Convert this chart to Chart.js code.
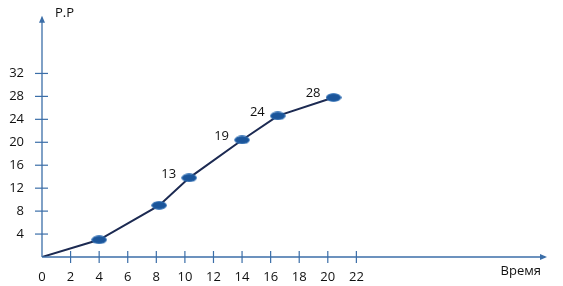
<!DOCTYPE html>
<html>
<head>
<meta charset="utf-8">
<script src="https://cdn.jsdelivr.net/npm/chart.js@4.4.1/dist/chart.umd.min.js"></script>
<style>
  html, body { margin: 0; padding: 0; background: #fff; }
  #wrap { width: 563px; height: 286px; }
</style>
</head>
<body>
<div id="wrap"><canvas id="growthChart" width="563" height="286"></canvas></div>
<script>
// data
const timeValues = [0, 4, 8.2, 10.3, 14, 16.5, 20.4];
const ppValues = [0, 3, 9, 13.8, 20.4, 24.6, 27.8];
const pointLabels = ["", "", "", "13", "19", "24", "28"];
const xTicks = [0, 2, 4, 6, 8, 10, 12, 14, 16, 18, 20, 22];
const yTicks = [4, 8, 12, 16, 20, 24, 28, 32];
const xTitle = "Время";
const yTitle = "P.P";

const axisColor = "#3b6ea8";
const lineColor = "#1c2a52";
const markerColor = "#1b559a";
const textFont = "13px 'Open Sans', sans-serif";

// ellipse marker
function makeMarker() {
  const c = document.createElement("canvas");
  c.width = 16; c.height = 9;
  const g = c.getContext("2d");
  g.beginPath();
  g.ellipse(8, 4.5, 7.3, 3.8, 0, 0, Math.PI * 2);
  g.fillStyle = markerColor;
  g.fill();
  g.strokeStyle = "#2f6fb5";
  g.lineWidth = 1;
  g.stroke();
  return c;
}
const marker = makeMarker();

// axes with arrows, crossing tick marks, titles and point labels
const axesPlugin = {
  id: "axesPlugin",
  afterDraw(chart) {
    const ctx = chart.ctx;
    const xs = chart.scales.x, ys = chart.scales.y;
    const x0 = xs.getPixelForValue(0);
    const y0 = ys.getPixelForValue(0);
    const area = chart.chartArea;
    ctx.save();
    ctx.strokeStyle = axisColor;
    ctx.fillStyle = axisColor;
    ctx.lineWidth = 1.3;
    // x axis
    ctx.beginPath();
    ctx.moveTo(x0, y0);
    ctx.lineTo(area.right, y0);
    ctx.stroke();
    ctx.beginPath();
    ctx.moveTo(area.right + 2, y0);
    ctx.lineTo(area.right - 5, y0 - 3);
    ctx.lineTo(area.right - 5, y0 + 3);
    ctx.closePath();
    ctx.fill();
    // y axis
    ctx.beginPath();
    ctx.moveTo(x0, y0);
    ctx.lineTo(x0, area.top);
    ctx.stroke();
    ctx.beginPath();
    ctx.moveTo(x0, area.top - 2);
    ctx.lineTo(x0 - 3, area.top + 5);
    ctx.lineTo(x0 + 3, area.top + 5);
    ctx.closePath();
    ctx.fill();
    // tick marks crossing the axes
    ctx.lineWidth = 1.2;
    xTicks.forEach(v => {
      if (v === 0) return;
      const px = xs.getPixelForValue(v);
      ctx.beginPath();
      ctx.moveTo(px, y0 - 6);
      ctx.lineTo(px, y0 + 6);
      ctx.stroke();
    });
    yTicks.forEach(v => {
      const py = ys.getPixelForValue(v);
      ctx.beginPath();
      ctx.moveTo(x0 - 7, py);
      ctx.lineTo(x0 + 6, py);
      ctx.stroke();
    });
    // titles
    ctx.fillStyle = "#111";
    ctx.font = textFont;
    ctx.textBaseline = "middle";
    ctx.textAlign = "right";
    ctx.fillText(xTitle, area.right - 4, y0 + 14);
    ctx.textAlign = "left";
    ctx.fillText(yTitle, x0 + 13, area.top - 5);
    // point labels
    const meta = chart.getDatasetMeta(0);
    ctx.textAlign = "right";
    meta.data.forEach((pt, i) => {
      if (!pointLabels[i]) return;
      ctx.fillText(pointLabels[i], pt.x - 13, pt.y - 4);
    });
    ctx.restore();
  }
};

new Chart(document.getElementById("growthChart"), {
  type: "scatter",
  data: {
    datasets: [{
      data: timeValues.map((t, i) => ({ x: t, y: ppValues[i] })),
      showLine: true,
      borderColor: lineColor,
      borderWidth: 2,
      tension: 0,
      pointStyle: marker,
      pointRadius: ctx => ctx.dataIndex === 0 ? 0 : 7,
      pointHoverRadius: 7
    }]
  },
  options: {
    responsive: false,
    animation: false,
    events: [],
    layout: { padding: { top: 17, right: 18, left: 0, bottom: 0 } },
    plugins: {
      legend: { display: false },
      tooltip: { enabled: false }
    },
    scales: {
      x: {
        type: "linear",
        min: 0,
        max: 35.2,
        grid: { display: false },
        border: { display: false },
        afterBuildTicks: scale => { scale.ticks = xTicks.map(v => ({ value: v })); },
        afterFit: scale => { scale.height = 29; },
        ticks: {
          color: "#111",
          font: { family: "'Open Sans', sans-serif", size: 13 },
          padding: 4,
          maxRotation: 0,
          autoSkip: false
        }
      },
      y: {
        type: "linear",
        min: 0,
        max: 41.7,
        grid: { display: false },
        border: { display: false },
        afterBuildTicks: scale => { scale.ticks = yTicks.map(v => ({ value: v })); },
        afterFit: scale => { scale.width = 42; },
        ticks: {
          color: "#111",
          font: { family: "'Open Sans', sans-serif", size: 13 },
          padding: 10,
          autoSkip: false
        }
      }
    }
  },
  plugins: [axesPlugin]
});
</script>
</body>
</html>
